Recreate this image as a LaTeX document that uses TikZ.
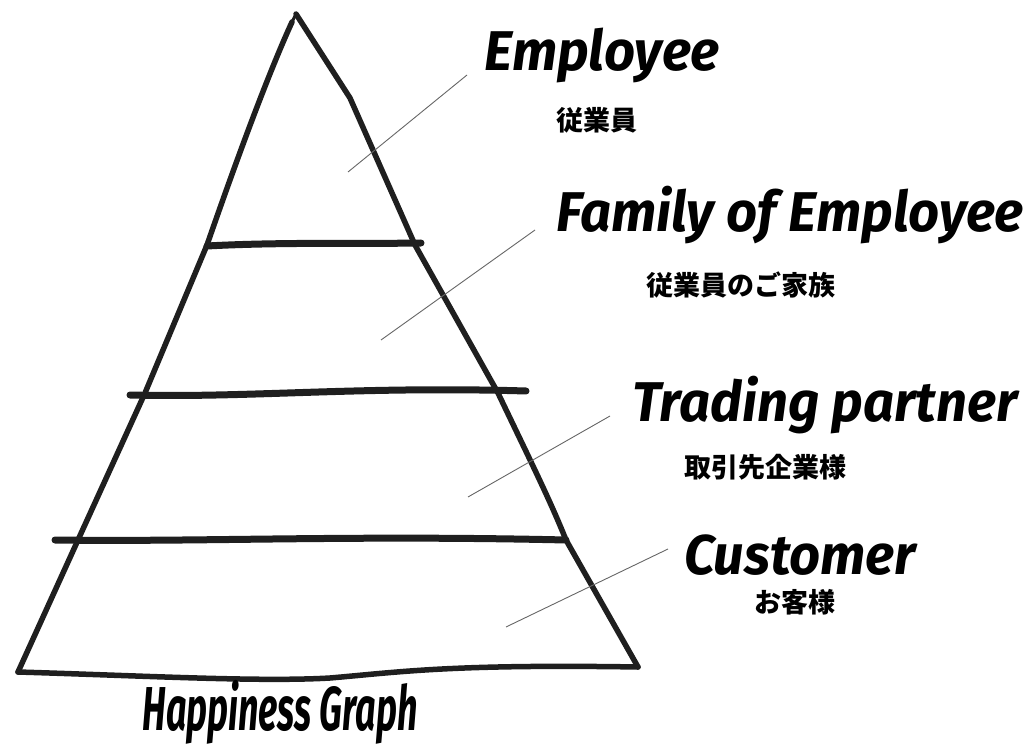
\documentclass[tikz,border=0pt]{standalone}
\usepackage{fontspec}
\newfontfamily\hand{Fira Sans}[FakeStretch=0.97]
\newfontfamily\handt{Fira Sans}[FakeStretch=0.58]
\newfontfamily\jp{Noto Sans CJK JP}
\begin{document}
\begin{tikzpicture}[x=1pt,y=-1pt,
  brush/.style={draw=black!88,line width=5.5pt,line cap=round,line join=round},
  band/.style={draw=black!88,line width=7pt,line cap=round},
  leader/.style={draw=black!60,line width=0.9pt},
  en/.style={font=\hand\bfseries\itshape\fontsize{56}{56}\selectfont,inner sep=0pt},
  ja/.style={font=\jp\bfseries\fontsize{27}{27}\selectfont,inner sep=0pt},
  title/.style={font=\handt\bfseries\itshape\fontsize{62}{62}\selectfont,inner sep=0pt}]
\useasboundingbox (0,0) rectangle (1033,751);
% pyramid outline
\coordinate (apex) at (296,14);
\coordinate (bl) at (18,672);
\coordinate (br) at (638,667);
\draw[brush,line width=3pt] (apex) -- (292,22);
\draw[brush] (292,22) .. controls (270,70) and (240,150) .. (207,245)
  -- (145,393) -- (78,540) -- (bl);
\draw[brush] (apex) -- (350,98) -- (415,245) -- (498,393)
  .. controls (530,460) and (550,500) .. (566,540) -- (br);
\draw[brush] (bl) .. controls (150,676) and (260,682) .. (330,678)
  .. controls (400,672) and (450,664) .. (br);
% bands
\coordinate (b1l) at (207,246); \coordinate (b1r) at (421,243);
\coordinate (b2l) at (130,395); \coordinate (b2r) at (526,391);
\coordinate (b3l) at (55,540);  \coordinate (b3r) at (566,540);
\draw[band] (b1l) .. controls (280,242) and (360,244) .. (b1r);
\draw[band] (b2l) .. controls (250,398) and (360,386) .. (b2r);
\draw[band] (b3l) .. controls (200,542) and (350,535) .. (b3r);
% labels
\node[en] (emp) at (602,55) {Employee};
\node[ja] (empj) at (597,120) {従業員};
\node[en] (fam) at (790,215) {Family of Employee};
\node[ja] (famj) at (741,285) {従業員のご家族};
\node[en] (trd) at (825,405) {Trading partner};
\node[ja] (trdj) at (765,467) {取引先企業様};
\node[en,text depth=0pt,anchor=base] (cus) at (800,574) {Customer};
\node[ja] (cusj) at (795,602) {お客様};
\node[title] (ttl) at (280,712) {Happiness Graph};
% leaders
\coordinate (l1a) at (348,172); \coordinate (l1b) at (467,75);
\coordinate (l2a) at (381,340); \coordinate (l2b) at (535,230);
\coordinate (l3a) at (468,497); \coordinate (l3b) at (610,416);
\coordinate (l4a) at (506,627); \coordinate (l4b) at (668,549);
\draw[leader] (l1a) -- (l1b);
\draw[leader] (l2a) -- (l2b);
\draw[leader] (l3a) -- (l3b);
\draw[leader] (l4a) -- (l4b);
\end{tikzpicture}
\end{document}
